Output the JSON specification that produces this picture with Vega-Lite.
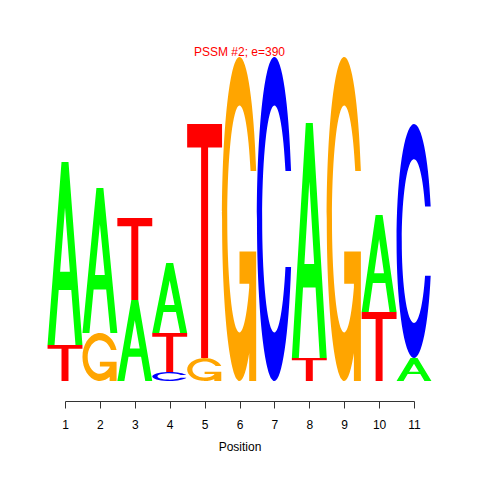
{
  "$schema": "https://vega.github.io/schema/vega-lite/v6.json",
  "width": 349,
  "height": 324,
  "autosize": "none",
  "padding": {"left": 65, "top": 57, "right": 66, "bottom": 99},
  "background": "white",
  "config": {"view": {"stroke": null}},
  "title": {"text": "PSSM #2; e=390", "color": "#FF0000", "font": "Liberation Sans", "fontSize": 12, "fontWeight": "normal", "anchor": "middle", "offset": -11, "baseline": "alphabetic"},
  "data": {"values": [
    {"pos": 1, "letter": "T", "bits": 0.222}, {"pos": 1, "letter": "A", "bits": 1.13},
    {"pos": 2, "letter": "G", "bits": 0.296}, {"pos": 2, "letter": "A", "bits": 0.895},
    {"pos": 3, "letter": "A", "bits": 0.5}, {"pos": 3, "letter": "T", "bits": 0.506},
    {"pos": 4, "letter": "C", "bits": 0.056}, {"pos": 4, "letter": "T", "bits": 0.241}, {"pos": 4, "letter": "A", "bits": 0.432},
    {"pos": 5, "letter": "G", "bits": 0.142}, {"pos": 5, "letter": "T", "bits": 1.444},
    {"pos": 6, "letter": "G", "bits": 2.0},
    {"pos": 7, "letter": "C", "bits": 2.0},
    {"pos": 8, "letter": "T", "bits": 0.142}, {"pos": 8, "letter": "A", "bits": 1.451},
    {"pos": 9, "letter": "G", "bits": 2.0},
    {"pos": 10, "letter": "T", "bits": 0.426}, {"pos": 10, "letter": "A", "bits": 0.599},
    {"pos": 11, "letter": "A", "bits": 0.142}, {"pos": 11, "letter": "C", "bits": 1.444}
  ]},
  "transform": [
    {"stack": "bits", "groupby": ["pos"], "sort": [{"field": "bits", "order": "ascending"}], "as": ["y0", "y1"]},
    {"calculate": "datum.y1 - datum.y0", "as": "h"},
    {"calculate": "(datum.y0 + datum.y1) / 2", "as": "ym"},
    {"calculate": "datum.h * datum.h", "as": "h2"},
    {"calculate": "0.21543 / datum.h", "as": "a"},
    {"calculate": "'M' + (0.956 * datum.a) + ',-0.296A' + datum.a + ',1,0,1,0,' + (0.956 * datum.a) + ',0.296L' + (0.634 * datum.a) + ',0.296A' + (0.7 * datum.a) + ',0.7,0,1,1,' + (0.634 * datum.a) + ',-0.296Z'", "as": "cpath"},
    {"calculate": "datum.letter == 'T' ? ('M' + (-datum.a) + ',-1L' + datum.a + ',-1L' + datum.a + ',-0.8L' + (0.2 * datum.a) + ',-0.8L' + (0.2 * datum.a) + ',1L' + (-0.2 * datum.a) + ',1L' + (-0.2 * datum.a) + ',-0.8L' + (-datum.a) + ',-0.8Z') : datum.letter == 'A' ? ('M' + (-datum.a) + ',1L' + (-0.2 * datum.a) + ',-1L' + (0.2 * datum.a) + ',-1L' + datum.a + ',1L' + (0.6 * datum.a) + ',1L' + (0.36 * datum.a) + ',0.4L' + (-0.36 * datum.a) + ',0.4L' + (-0.6 * datum.a) + ',1ZM' + (0.28 * datum.a) + ',0.2L0,-0.5L' + (-0.28 * datum.a) + ',0.2Z') : datum.letter == 'C' ? datum.cpath : (datum.cpath + 'M' + (0.956 * datum.a) + ',0.2L0,0.2L0,0.4L' + (0.556 * datum.a) + ',0.4L' + (0.556 * datum.a) + ',1L' + (0.956 * datum.a) + ',1Z')", "as": "glyph"}
  ],
  "mark": {"type": "point", "filled": true, "opacity": 1, "strokeWidth": 0},
  "encoding": {
    "x": {"field": "pos", "type": "quantitative", "title": "Position",
      "scale": {"domain": [1, 11], "nice": false, "zero": false},
      "axis": {"values": [1, 2, 3, 4, 5, 6, 7, 8, 9, 10, 11], "format": "d", "tickSize": 7, "offset": 20,
        "labelFontSize": 12, "labelFont": "Liberation Sans", "labelColor": "black", "labelPadding": 11,
        "labelFlush": false, "labelOverlap": false,
        "titleFont": "Liberation Sans", "titleFontSize": 12, "titleFontWeight": "normal", "titleColor": "black", "titlePadding": 11,
        "domainColor": "#333333", "tickColor": "#333333", "grid": false}},
    "y": {"field": "ym", "type": "quantitative", "scale": {"domain": [0, 2], "nice": false}, "axis": null},
    "size": {"field": "h2", "type": "quantitative", "scale": {"type": "linear", "domain": [0, 4], "range": [0, 104976], "zero": true, "nice": false}, "legend": null},
    "shape": {"field": "glyph", "type": "nominal", "scale": null, "legend": null},
    "color": {"field": "letter", "type": "nominal", "scale": {"domain": ["A", "C", "G", "T"], "range": ["#00FF00", "#0000FF", "#FFA500", "#FF0000"]}, "legend": null}
  }
}
